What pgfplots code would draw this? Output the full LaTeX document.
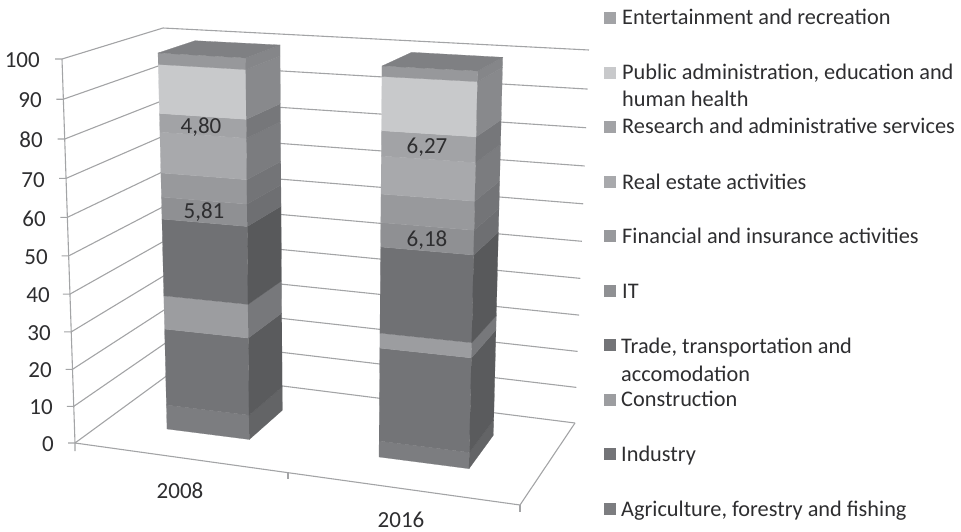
\documentclass[border=0pt]{standalone}
\usepackage{pgfplots}
\pgfplotsset{compat=1.18}
\usepackage{fontspec}
\setmainfont{Carlito}
% front / side shades of the ten series
\definecolor{agriF}{HTML}{7C7D80}\definecolor{agriS}{HTML}{636466}
\definecolor{indF}{HTML}{737477}\definecolor{indS}{HTML}{5A5B5D}
\definecolor{conF}{HTML}{9C9DA0}\definecolor{conS}{HTML}{77787B}
\definecolor{traF}{HTML}{707174}\definecolor{traS}{HTML}{58595B}
\definecolor{itF}{HTML}{8F9093}\definecolor{itS}{HTML}{6E6F72}
\definecolor{finF}{HTML}{98999C}\definecolor{finS}{HTML}{737477}
\definecolor{reaF}{HTML}{A8A9AC}\definecolor{reaS}{HTML}{7B7C7F}
\definecolor{resF}{HTML}{A2A3A6}\definecolor{resS}{HTML}{76777A}
\definecolor{pubF}{HTML}{C8C9CB}\definecolor{pubS}{HTML}{88898C}
\definecolor{entF}{HTML}{97989B}\definecolor{entS}{HTML}{858689}
\definecolor{topc}{HTML}{7F8083}
\definecolor{gridc}{HTML}{A3A4A6}
\definecolor{txt}{HTML}{2E2E30}
\newcommand\tk{\fontsize{23}{27}\selectfont}
\newcommand\lgf{\fontsize{22.3}{26}\selectfont}
% position along a vertical edge from its end at value 0 to its end at value 100, foreshortened
\newcommand\ep[4]{\pgfmathsetmacro#1{#2+(#3-#2)*0.95*(#4/100)/(1-0.05*(#4/100))}}
\newcommand\seg[3]{%
  \pgfmathsetmacro\vhi{\cum+#1}%
  \ep\xa\FLx\FLX\cum\ep\ya\FLy\FLY\cum
  \ep\xb\FRx\FRX\cum\ep\yb\FRy\FRY\cum
  \ep\xc\BRx\BRX\cum\ep\yc\BRy\BRY\cum
  \ep\xd\FLx\FLX\vhi\ep\yd\FLy\FLY\vhi
  \ep\xe\FRx\FRX\vhi\ep\ye\FRy\FRY\vhi
  \ep\xf\BRx\BRX\vhi\ep\yf\BRy\BRY\vhi
  \addplot[fill=#2,draw=#2,line width=0.2pt] coordinates {(\xa,\ya)(\xb,\yb)(\xe,\ye)(\xd,\yd)} --cycle;
  \addplot[fill=#3,draw=#3,line width=0.2pt] coordinates {(\xb,\yb)(\xc,\yc)(\xf,\yf)(\xe,\ye)} --cycle;
  \global\let\cum\vhi
}
\newcommand\gline[1]{%
  \ep\xa{75}{62}{#1}\ep\ya{443}{59}{#1}%
  \ep\xb{172}{163}{#1}\ep\yb{372}{28}{#1}%
  \ep\xc{575}{589}{#1}\ep\yc{423}{50}{#1}%
  \pgfmathsetmacro\xt{\xa-7}%
  \addplot[gridc,line width=1.1pt] coordinates {(\xt,\ya)(\xa,\ya)(\xb,\yb)(\xc,\yc)};
}
\newcommand\legitem[2]{%
  \pgfmathsetmacro\ya{#2-6}\pgfmathsetmacro\yb{#2+6}%
  \addplot[fill=#1,draw=none] coordinates {(604,\ya)(616,\ya)(616,\yb)(604,\yb)} --cycle;
}
\begin{document}
\begin{tikzpicture}
\begin{axis}[
  at={(0,0)},anchor=south west,
  scale only axis,width=961pt,height=532pt,
  xmin=0,xmax=961,ymin=0,ymax=532,y dir=reverse,
  hide axis,
]
\path (axis cs:0,0) rectangle (axis cs:961,532);
% walls and floor
\gline{0}\gline{10}\gline{20}\gline{30}\gline{40}\gline{50}\gline{60}\gline{70}\gline{80}\gline{90}\gline{100}
\addplot[gridc,line width=1.1pt] coordinates {(62,59)(75,443)(75,451)};
\addplot[gridc,line width=1.1pt] coordinates {(75,443)(520,505)(575,423)};
\addplot[gridc,line width=1.1pt] coordinates {(520,505)(520,512)};
\addplot[gridc,line width=1.1pt] coordinates {(288,472)(288,479)};
% 2008
\def\FLx{167}\def\FLy{429}\def\FLX{158}\def\FLY{53}
\def\FRx{249.3}\def\FRy{439.5}\def\FRX{245.7}\def\FRY{58}
\def\BRx{282.3}\def\BRy{410.3}\def\BRX{280}\def\BRY{45}
\def\cum{0}
\seg{6.70}{agriF}{agriS}
\seg{20.90}{indF}{indS}
\seg{9.00}{conF}{conS}
\seg{20.50}{traF}{traS}
\seg{5.81}{itF}{itS}
\seg{6.30}{finF}{finS}
\seg{10.60}{reaF}{reaS}
\seg{4.80}{resF}{resS}
\seg{12.50}{pubF}{pubS}
\seg{2.89}{entF}{entS}
\addplot[fill=topc,draw=topc,line width=0.2pt] coordinates {(158,53)(245.7,58)(280,45)(195,40.7)} --cycle;
% 2016
\def\FLx{379}\def\FLy{457}\def\FLX{382}\def\FLY{66}
\def\FRx{469}\def\FRy{468.7}\def\FRX{477.7}\def\FRY{71}
\def\BRx{493.3}\def\BRy{435.3}\def\BRX{502.7}\def\BRY{57.3}
\def\cum{0}
\seg{4.30}{agriF}{agriS}
\seg{24.60}{indF}{indS}
\seg{3.90}{conF}{conS}
\seg{22.20}{traF}{traS}
\seg{6.18}{itF}{itS}
\seg{7.20}{finF}{finS}
\seg{9.50}{reaF}{reaS}
\seg{6.27}{resF}{resS}
\seg{13.30}{pubF}{pubS}
\seg{2.55}{entF}{entS}
\addplot[fill=topc,draw=topc,line width=0.2pt] coordinates {(382,66)(477.7,71)(502.7,57.3)(411.7,52.3)} --cycle;
% legend swatches
\legitem{resF}{18}
\legitem{pubF}{73}
\legitem{resF}{127}
\legitem{reaF}{182}
\legitem{finF}{236}
\legitem{itF}{291}
\legitem{indF}{345}
\legitem{conF}{400}
\legitem{indF}{454}
\legitem{agriF}{509}
% value axis labels
\node[anchor=east,inner sep=0pt,text=txt] at (axis cs:40,60) {\tk 100};
\node[anchor=east,inner sep=0pt,text=txt] at (axis cs:42,100) {\tk 90};
\node[anchor=east,inner sep=0pt,text=txt] at (axis cs:43,140) {\tk 80};
\node[anchor=east,inner sep=0pt,text=txt] at (axis cs:45,180) {\tk 70};
\node[anchor=east,inner sep=0pt,text=txt] at (axis cs:46,219) {\tk 60};
\node[anchor=east,inner sep=0pt,text=txt] at (axis cs:48,257) {\tk 50};
\node[anchor=east,inner sep=0pt,text=txt] at (axis cs:50,295) {\tk 40};
\node[anchor=east,inner sep=0pt,text=txt] at (axis cs:51,333) {\tk 30};
\node[anchor=east,inner sep=0pt,text=txt] at (axis cs:52,370) {\tk 20};
\node[anchor=east,inner sep=0pt,text=txt] at (axis cs:53,407) {\tk 10};
\node[anchor=east,inner sep=0pt,text=txt] at (axis cs:54,444) {\tk 0};
\node[inner sep=0pt,text=txt] at (axis cs:180,491) {\tk 2008};
\node[inner sep=0pt,text=txt] at (axis cs:401,519.5) {\tk 2016};
% data labels
\node[inner sep=0pt,text=txt] at (axis cs:201,127) {\tk 4,80};
\node[inner sep=0pt,text=txt] at (axis cs:204,212) {\tk 5,81};
\node[inner sep=0pt,text=txt] at (axis cs:427,147) {\tk 6,27};
\node[inner sep=0pt,text=txt] at (axis cs:427,240) {\tk 6,18};
% legend labels
\node[anchor=base west,inner sep=0pt,text=txt] at (axis cs:622,25) {\lgf Entertainment and recreation};
\node[anchor=base west,inner sep=0pt,text=txt] at (axis cs:622,80) {\lgf Public administration, education and};
\node[anchor=base west,inner sep=0pt,text=txt] at (axis cs:622,107) {\lgf human health};
\node[anchor=base west,inner sep=0pt,text=txt] at (axis cs:622,134) {\lgf Research and administrative services};
\node[anchor=base west,inner sep=0pt,text=txt] at (axis cs:622,189) {\lgf Real estate activities};
\node[anchor=base west,inner sep=0pt,text=txt] at (axis cs:622,243) {\lgf Financial and insurance activities};
\node[anchor=base west,inner sep=0pt,text=txt] at (axis cs:622,298) {\lgf IT};
\node[anchor=base west,inner sep=0pt,text=txt] at (axis cs:621,353) {\lgf Trade, transportation and};
\node[anchor=base west,inner sep=0pt,text=txt] at (axis cs:621,381) {\lgf accomodation};
\node[anchor=base west,inner sep=0pt,text=txt] at (axis cs:621,406) {\lgf Construction};
\node[anchor=base west,inner sep=0pt,text=txt] at (axis cs:621,461) {\lgf Industry};
\node[anchor=base west,inner sep=0pt,text=txt] at (axis cs:621,516) {\lgf Agriculture, forestry and fishing};
\end{axis}
\end{tikzpicture}
\end{document}
